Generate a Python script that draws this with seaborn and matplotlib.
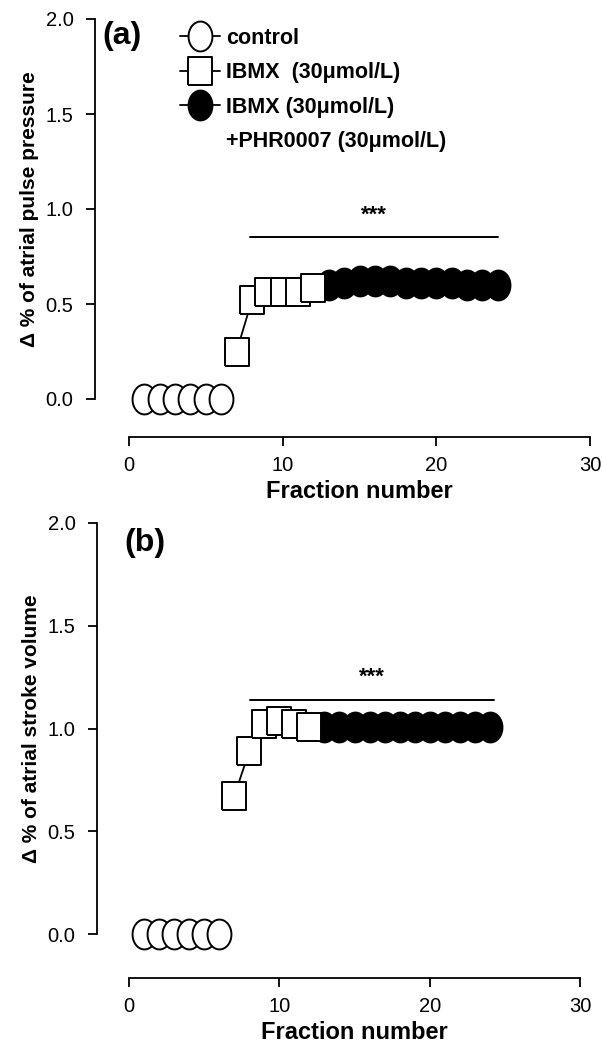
import numpy as np
import pandas as pd
import matplotlib
matplotlib.use("Agg")
import matplotlib.pyplot as plt
from matplotlib.markers import MarkerStyle
from matplotlib.lines import Line2D
import seaborn as sns

# ---------------- data ----------------
ctrl_x = [1, 2, 3, 4, 5, 6]
ibmx_x = [7, 8, 9, 10, 11, 12]
phr_x = [13, 14, 15, 16, 17, 18, 19, 20, 21, 22, 23, 24]

pp_ctrl = [0.0, 0.0, 0.0, 0.0, 0.0, 0.0]
pp_ibmx = [0.25, 0.52, 0.565, 0.565, 0.565, 0.586]
pp_phr = [0.60, 0.61, 0.62, 0.62, 0.62, 0.61, 0.61, 0.61, 0.61, 0.60, 0.60, 0.60]

sv_ctrl = [0.0, 0.0, 0.0, 0.0, 0.0, 0.0]
sv_ibmx = [0.67, 0.89, 1.02, 1.035, 1.02, 1.005]
sv_phr = [1.005, 1.005, 1.005, 1.005, 1.005, 1.005, 1.005, 1.005, 1.005, 1.005, 1.005, 1.005]

sig_a = (7.9, 24.0, 0.853, "***")
sig_b = (8.05, 24.3, 1.14, "***")

x_ticks = [0, 10, 20, 30]
y_ticks = [0.0, 0.5, 1.0, 1.5, 2.0]
y_ticklabels = ["0.0", "0.5", "1.0", "1.5", "2.0"]

labels = ["control", "IBMX  (30\u03bcmol/L)", "IBMX (30\u03bcmol/L)", "+PHR0007 (30\u03bcmol/L)"]
ylabel_a = "\u0394 % of atrial pulse pressure"
ylabel_b = "\u0394 % of atrial stroke volume"
xlabel = "Fraction number"

# ---------------- style ----------------
sns.set_theme(style="ticks")
plt.rcParams['font.family'] = ['Liberation Sans', 'DejaVu Sans']
plt.rcParams['text.color'] = 'black'
plt.rcParams['axes.labelcolor'] = 'black'
plt.rcParams['xtick.color'] = 'black'
plt.rcParams['ytick.color'] = 'black'

W, H = 603, 1045
fig = plt.figure(figsize=(W / 100, H / 100), dpi=100)

t = np.linspace(0, 2 * np.pi, 80)
ellipse = MarkerStyle(list(zip(0.80 * np.cos(t), np.sin(t))))
rect = MarkerStyle([(-0.86, -1), (0.86, -1), (0.86, 1), (-0.86, 1), (-0.86, -1)])

MS = 21.5
MEW = 1.4
LW = 1.3


def draw_panel(ax, ctrl, ibmx, phr, sig, ylabel):
    d_ctrl = pd.DataFrame({"x": ctrl_x, "y": ctrl})
    d_ibmx = pd.DataFrame({"x": ibmx_x, "y": ibmx})
    d_phr = pd.DataFrame({"x": phr_x, "y": phr})
    sns.lineplot(data=d_phr, x="x", y="y", ax=ax, color="black", lw=LW,
                 marker=ellipse, markersize=MS, markerfacecolor="black",
                 markeredgecolor="black", markeredgewidth=MEW, zorder=3, clip_on=False)
    sns.lineplot(data=d_ctrl, x="x", y="y", ax=ax, color="black", lw=LW,
                 marker=ellipse, markersize=MS, markerfacecolor="white",
                 markeredgecolor="black", markeredgewidth=MEW, zorder=3, clip_on=False)
    ax.plot(d_ibmx["x"], d_ibmx["y"], color="black", lw=LW, zorder=4, clip_on=False)
    for i, (xx, yy) in enumerate(zip(d_ibmx["x"], d_ibmx["y"])):
        ax.plot([xx], [yy], linestyle="none", marker=rect, markersize=MS - 0.8,
                markerfacecolor="white", markeredgecolor="black",
                markeredgewidth=MEW, zorder=4 + 0.01 * i, clip_on=False)

    x0, x1, ys, txt = sig
    ax.plot([x0, x1], [ys, ys], color="black", lw=1.4)
    ax.text((x0 + x1) / 2, ys + 0.06, txt, ha="center", va="bottom",
            fontsize=16, fontweight="bold")

    ax.set_xlim(0, 30)
    ax.set_ylim(0, 2)
    sns.despine(ax=ax)
    ax.spines["left"].set_bounds(0, 2)
    ax.spines["bottom"].set_bounds(0, 30)
    for s in ("left", "bottom"):
        ax.spines[s].set_linewidth(1.3)
        ax.spines[s].set_color("black")
    ax.set_xticks(x_ticks)
    ax.set_yticks(y_ticks)
    ax.set_yticklabels(y_ticklabels)
    ax.tick_params(axis="both", direction="out", length=6.5, width=1.3,
                   colors="black", labelsize=14.5)
    ax.tick_params(axis="y", pad=9)
    ax.tick_params(axis="x", pad=7)
    ax.set_xlabel(xlabel, fontsize=17, fontweight="bold", labelpad=4)
    ax.set_ylabel(ylabel, fontsize=15, fontweight="bold", labelpad=5)


# top panel
ax1 = fig.add_axes([129 / W, 1 - 399 / H, 461 / W, 380 / H])
draw_panel(ax1, pp_ctrl, pp_ibmx, pp_phr, sig_a, ylabel_a)
ax1.spines["left"].set_position(("outward", 24.5))
ax1.spines["bottom"].set_position(("outward", 27.4))
ax1.text(102 / W, 1 - 36 / H, "(a)", transform=fig.transFigure, ha="left",
         va="center", fontsize=23, fontweight="bold")

# legend
handles = [
    Line2D([], [], color="black", lw=LW, marker=ellipse, markersize=MS,
           markerfacecolor="white", markeredgecolor="black", markeredgewidth=MEW),
    Line2D([], [], color="black", lw=LW, marker=rect, markersize=MS - 0.8,
           markerfacecolor="white", markeredgecolor="black", markeredgewidth=MEW),
    Line2D([], [], color="black", lw=LW, marker=ellipse, markersize=MS,
           markerfacecolor="black", markeredgecolor="black", markeredgewidth=MEW),
    Line2D([], [], color="none", lw=0),
]
leg = ax1.legend(handles, labels, loc="upper left",
                 bbox_to_anchor=(180 / W, 1 - 28 / H), bbox_transform=fig.transFigure,
                 frameon=False, handlelength=1.85, handletextpad=0.3,
                 labelspacing=0.62, numpoints=1, borderpad=0, borderaxespad=0,
                 prop={"size": 15.5, "weight": "bold"})

# bottom panel
ax2 = fig.add_axes([129 / W, 1 - 934 / H, 451 / W, 411 / H])
draw_panel(ax2, sv_ctrl, sv_ibmx, sv_phr, sig_b, ylabel_b)
ax2.spines["left"].set_position(("outward", 23))
ax2.spines["bottom"].set_position(("outward", 31.7))
ax2.text(124 / W, 1 - 543 / H, "(b)", transform=fig.transFigure, ha="left",
         va="center", fontsize=23, fontweight="bold")

fig.savefig("out.png", dpi=100)
